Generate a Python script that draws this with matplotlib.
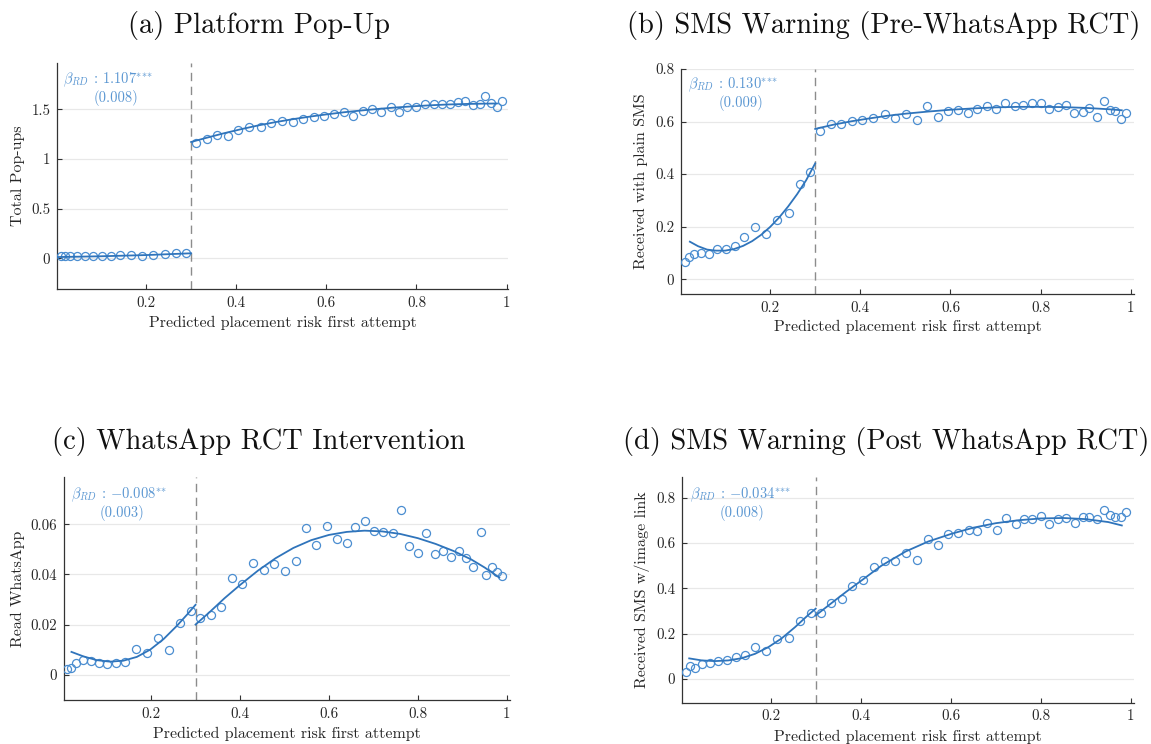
import numpy as np
import matplotlib
matplotlib.use("Agg")
import matplotlib.pyplot as plt
from matplotlib.ticker import FuncFormatter

plt.rcParams['font.family'] = ['cmr10', 'DejaVu Serif']
plt.rcParams['mathtext.fontset'] = 'cm'
plt.rcParams['axes.formatter.use_mathtext'] = True
plt.rcParams['axes.unicode_minus'] = False

# ---------------- data: binned means ----------------
cutoff = 0.3
x_left = [0.011, 0.021, 0.032, 0.047, 0.065, 0.083, 0.102, 0.122, 0.142, 0.166,
          0.190, 0.215, 0.241, 0.266, 0.289]
x_right = [0.311, 0.335, 0.358, 0.381, 0.404, 0.429, 0.454, 0.477, 0.501, 0.525,
           0.549, 0.572, 0.595, 0.617, 0.640, 0.659, 0.681, 0.702, 0.722, 0.744,
           0.762, 0.780, 0.800, 0.819, 0.838, 0.857, 0.875, 0.893, 0.908, 0.925,
           0.941, 0.953, 0.966, 0.979, 0.990]

popup_left = [0.020, 0.020, 0.025, 0.025, 0.020, 0.025, 0.025, 0.025, 0.030, 0.035,
              0.025, 0.035, 0.040, 0.050, 0.050]
popup_right = [1.158, 1.198, 1.238, 1.236, 1.292, 1.326, 1.326, 1.366, 1.379, 1.372,
               1.399, 1.419, 1.433, 1.453, 1.473, 1.436, 1.483, 1.500, 1.470, 1.527,
               1.473, 1.520, 1.520, 1.554, 1.550, 1.550, 1.550, 1.570, 1.580, 1.544,
               1.550, 1.634, 1.560, 1.520, 1.587]

sms_left = [0.066, 0.086, 0.096, 0.099, 0.096, 0.114, 0.114, 0.128, 0.160, 0.200,
            0.172, 0.226, 0.251, 0.361, 0.408]
sms_right = [0.565, 0.591, 0.591, 0.602, 0.607, 0.614, 0.629, 0.614, 0.629, 0.606,
             0.659, 0.619, 0.640, 0.644, 0.631, 0.647, 0.659, 0.648, 0.669, 0.661,
             0.663, 0.669, 0.669, 0.647, 0.654, 0.663, 0.631, 0.638, 0.650, 0.616,
             0.680, 0.644, 0.641, 0.609, 0.634]

wa_left = [0.0021, 0.0025, 0.0048, 0.0059, 0.0056, 0.0045, 0.0043, 0.0045, 0.0052, 0.0102,
           0.0088, 0.0146, 0.0098, 0.0208, 0.0255]
wa_right = [0.0227, 0.0237, 0.0270, 0.0388, 0.0361, 0.0444, 0.0418, 0.0442, 0.0414, 0.0454,
            0.0587, 0.0516, 0.0593, 0.0540, 0.0524, 0.0588, 0.0615, 0.0572, 0.0569, 0.0565,
            0.0659, 0.0514, 0.0486, 0.0567, 0.0482, 0.0495, 0.0471, 0.0495, 0.0467, 0.0431,
            0.0568, 0.0396, 0.0428, 0.0411, 0.0394]

link_left = [0.032, 0.056, 0.047, 0.065, 0.071, 0.078, 0.083, 0.094, 0.106, 0.139,
             0.121, 0.174, 0.182, 0.257, 0.292]
link_right = [0.289, 0.334, 0.351, 0.409, 0.435, 0.494, 0.520, 0.522, 0.555, 0.524,
              0.617, 0.590, 0.638, 0.645, 0.658, 0.654, 0.688, 0.660, 0.710, 0.685,
              0.706, 0.706, 0.722, 0.685, 0.707, 0.713, 0.688, 0.714, 0.717, 0.708,
              0.747, 0.723, 0.716, 0.716, 0.738]

# ---------------- data: fitted polynomial lines ----------------
popup_fit_lx = [0.003, 0.1, 0.2, 0.3]
popup_fit_ly = [0.012, 0.020, 0.032, 0.050]
popup_fit_rx = [0.3, 0.334, 0.372, 0.411, 0.449, 0.487, 0.526, 0.564, 0.602, 0.64,
                0.679, 0.717, 0.755, 0.794, 0.832, 0.87, 0.909, 0.947, 0.978]
popup_fit_ry = [1.172, 1.214, 1.259, 1.301, 1.339, 1.372, 1.402, 1.428, 1.451, 1.472,
                1.490, 1.506, 1.520, 1.532, 1.542, 1.550, 1.555, 1.558, 1.560]

sms_fit_lx = [0.022, 0.04, 0.06, 0.08, 0.1, 0.12, 0.14, 0.16, 0.18, 0.2, 0.22, 0.24,
              0.26, 0.28, 0.3]
sms_fit_ly = [0.143, 0.126, 0.113, 0.109, 0.109, 0.115, 0.127, 0.145, 0.169, 0.199,
              0.235, 0.277, 0.324, 0.377, 0.441]
sms_fit_rx = [0.3, 0.34, 0.38, 0.42, 0.46, 0.5, 0.55, 0.6, 0.65, 0.7, 0.75, 0.8,
              0.85, 0.9, 0.95, 0.98]
sms_fit_ry = [0.572, 0.588, 0.601, 0.612, 0.622, 0.630, 0.638, 0.645, 0.650, 0.654,
              0.656, 0.656, 0.655, 0.652, 0.647, 0.643]

wa_fit_lx = [0.021, 0.048, 0.078, 0.108, 0.138, 0.168, 0.198, 0.228, 0.258, 0.281, 0.3]
wa_fit_ly = [0.0091, 0.0073, 0.0058, 0.0052, 0.0056, 0.0071, 0.0100, 0.0142, 0.0195,
             0.0240, 0.0279]
wa_fit_rx = [0.3, 0.333, 0.365, 0.4, 0.44, 0.48, 0.52, 0.56, 0.6, 0.64, 0.68, 0.72,
             0.76, 0.8, 0.84, 0.88, 0.92, 0.95, 0.983]
wa_fit_ry = [0.0200, 0.0252, 0.0305, 0.0358, 0.0415, 0.0465, 0.0506, 0.0537, 0.0558,
             0.0570, 0.0575, 0.0572, 0.0562, 0.0545, 0.0522, 0.0494, 0.0460, 0.0428,
             0.0388]

link_fit_lx = [0.019, 0.047, 0.076, 0.106, 0.136, 0.165, 0.195, 0.224, 0.254, 0.284, 0.3]
link_fit_ly = [0.090, 0.081, 0.078, 0.081, 0.091, 0.110, 0.140, 0.178, 0.228, 0.283, 0.310]
link_fit_rx = [0.3, 0.336, 0.368, 0.4, 0.446, 0.5, 0.55, 0.603, 0.65, 0.7, 0.75, 0.8,
               0.85, 0.9, 0.95, 0.98]
link_fit_ry = [0.280, 0.336, 0.385, 0.432, 0.500, 0.563, 0.607, 0.642, 0.668, 0.688,
               0.701, 0.709, 0.711, 0.706, 0.693, 0.678]

titles = ["(a) Platform Pop-Up", "(b) SMS Warning (Pre-WhatsApp RCT)",
          "(c) WhatsApp RCT Intervention", "(d) SMS Warning (Post WhatsApp RCT)"]
ylabels = ["Total Pop-ups", "Received with plain SMS", "Read WhatsApp",
           "Received SMS w/image link"]
beta_text = [r"$\beta_{RD}$ : 1.107$^{{*}{*}{*}}$", r"$\beta_{RD}$ : 0.130$^{{*}{*}{*}}$",
             r"$\beta_{RD}$ : $-$0.008$^{{*}{*}}$", r"$\beta_{RD}$ : $-$0.034$^{{*}{*}{*}}$"]
se_text = ["(0.008)", "(0.009)", "(0.003)", "(0.008)"]
xticks = [0.2, 0.4, 0.6, 0.8, 1.0]
yticks = [[0, 0.5, 1, 1.5], [0, 0.2, 0.4, 0.6, 0.8], [0, 0.02, 0.04, 0.06],
          [0, 0.2, 0.4, 0.6, 0.8]]
ylims = [(-0.31, 1.965), (-0.056, 0.80), (-0.0101, 0.0788), (-0.106, 0.891)]
xlims = [(0.003, 1.004), (0.003, 1.006), (0.004, 1.006), (0.003, 1.006)]
series = [(popup_left, popup_right), (sms_left, sms_right),
          (wa_left, wa_right), (link_left, link_right)]
fit_lines = [(popup_fit_lx, popup_fit_ly, popup_fit_rx, popup_fit_ry),
             (sms_fit_lx, sms_fit_ly, sms_fit_rx, sms_fit_ry),
             (wa_fit_lx, wa_fit_ly, wa_fit_rx, wa_fit_ry),
             (link_fit_lx, link_fit_ly, link_fit_rx, link_fit_ry)]

# ---------------- layout (pixels) ----------------
W, H = 1151, 744
boxes = [(57.3, 63.3, 508.4, 289), (681.3, 69, 1133.5, 294),
         (63.9, 477.3, 509.5, 700), (682, 477.3, 1133.5, 702.7)]
title_pos = [(258.5, 26), (884, 26), (258.5, 441), (886, 441)]
ylabel_x = [18, 641, 18, 642]
xlabel_y = [323, 327, 734, 737]
beta_pos = [(63, 80, 94, 98.3), (688, 85, 718.7, 103), (70.8, 495, 100, 512.7),
            (689.8, 495, 719.7, 513.3)]

marker_c = '#4a8dd0'
line_c = '#2f74bb'
text_c = '#5b97d2'

fig = plt.figure(figsize=(W / 100, H / 100), dpi=100)

for i in range(4):
    x0, y0, x1, y1 = boxes[i]
    ax = fig.add_axes([x0 / W, 1 - y1 / H, (x1 - x0) / W, (y1 - y0) / H])
    yl, yr = series[i]
    ax.plot(x_left, yl, 'o', mfc='none', mec=marker_c, ms=5.8, mew=0.9, zorder=3)
    ax.plot(x_right, yr, 'o', mfc='none', mec=marker_c, ms=5.8, mew=0.9, zorder=3)
    flx, fly, frx, fry = fit_lines[i]
    ax.plot(flx, fly, color=line_c, lw=1.3, zorder=4, solid_joinstyle='round')
    ax.plot(frx, fry, color=line_c, lw=1.3, zorder=4, solid_joinstyle='round')
    ax.axvline(cutoff, color='#8c8c8c', lw=1.0, ls=(0, (6, 4)), zorder=2)

    ax.set_xlim(*xlims[i])
    ax.set_ylim(*ylims[i])
    ax.set_xticks(xticks)
    ax.set_yticks(yticks[i])
    ax.xaxis.set_major_formatter(FuncFormatter(lambda v, p: f"{v:g}"))
    ax.yaxis.set_major_formatter(FuncFormatter(lambda v, p: f"{v:g}"))
    ax.grid(axis='y', color='#e8e8e8', lw=0.9, zorder=0)
    ax.set_axisbelow(True)
    for s in ['top', 'right']:
        ax.spines[s].set_visible(False)
    for s in ['left', 'bottom']:
        ax.spines[s].set_color('#333333')
        ax.spines[s].set_linewidth(0.9)
    ax.tick_params(direction='in', length=3.5, width=0.8, color='#333333',
                   labelsize=10.8, labelcolor='#262626', pad=5)

    ax.set_ylabel(ylabels[i], fontsize=11.5, color='#262626')
    ax.yaxis.set_label_coords((ylabel_x[i] - x0) / (x1 - x0), 0.5)
    ax.yaxis.label.set_va('center')
    ax.set_xlabel("Predicted placement risk first attempt", fontsize=11.5, color='#262626')
    ax.xaxis.set_label_coords(0.5, (y1 - xlabel_y[i]) / (y1 - y0))
    ax.xaxis.label.set_va('center')

    bx, by, sx, sy = beta_pos[i]
    ax.text((bx - x0) / (x1 - x0), (y1 - by) / (y1 - y0), beta_text[i],
            transform=ax.transAxes, color=text_c, fontsize=10.5, ha='left', va='center')
    ax.text((sx - x0) / (x1 - x0), (y1 - sy) / (y1 - y0), se_text[i],
            transform=ax.transAxes, color=text_c, fontsize=10.5, ha='left', va='center')

    tx, ty = title_pos[i]
    fig.text(tx / W, 1 - ty / H, titles[i], fontsize=20.5, ha='center', va='center',
             color='#111111')

fig.savefig("out.png", dpi=100)
